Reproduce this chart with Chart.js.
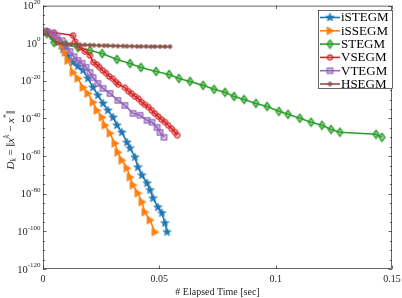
<!DOCTYPE html>
<html><head><meta charset="utf-8">
<script src="https://cdn.jsdelivr.net/npm/chart.js@4"></script>
<style>html,body{margin:0;padding:0;background:#fff}#wrap{width:402px;height:298px;position:relative}</style>
</head><body><div id="wrap"><canvas id="c" width="402" height="298"></canvas></div>
<script>
// ---- data (time in seconds, D_k given as base-10 exponents) ----
const seriesNames = ['iSTEGM','iSSEGM','STEGM','VSEGM','VTEGM','HSEGM'];
const seriesColors = ['#1f77b4','#ff7f0e','#2ca02c','#d62728','#9467bd','#8c564b'];

const iSTEGM_t   = [0.0017,0.0043,0.0064,0.0086,0.0107,0.0129,0.0150,0.0172,0.0193,0.0215,0.0236,0.0258,0.0279,0.0301,0.0318,0.0339,0.0361,0.0374,0.0395,0.0408,0.0425,0.0447,0.0460,0.0473,0.0494,0.0511,0.0524,0.0533];
const iSTEGM_exp = [6.2,3.6,0.4,-3.3,-7.0,-10.2,-12.3,-14.4,-18.7,-23.5,-27.7,-32.0,-35.7,-39.4,-43.6,-47.4,-52.7,-55.8,-60.6,-65.9,-70.2,-74.4,-78.1,-82.4,-87.2,-90.3,-95.6,-100.4];

const iSSEGM_t   = [0.0017,0.0043,0.0064,0.0082,0.0095,0.0107,0.0129,0.0150,0.0172,0.0193,0.0215,0.0232,0.0254,0.0266,0.0288,0.0309,0.0322,0.0339,0.0361,0.0374,0.0387,0.0408,0.0425,0.0438,0.0460,0.0481];
const iSSEGM_exp = [6.2,4.6,2.0,-1.2,-4.9,-9.2,-15.5,-18.7,-23.5,-26.7,-31.4,-35.7,-39.4,-43.6,-47.9,-53.2,-58.0,-62.2,-66.4,-71.2,-75.4,-79.7,-84.4,-89.8,-94.0,-100.4];

const STEGM_t    = [0.0017,0.0047,0.0099,0.0150,0.0202,0.0254,0.0318,0.0374,0.0421,0.0486,0.0542,0.0584,0.0632,0.0688,0.0735,0.0782,0.0821,0.0864,0.0915,0.0963,0.1014,0.1053,0.1104,0.1152,0.1199,0.1238,0.1276,0.1431,0.1457];
const STEGM_exp  = [5.1,0.4,-0.7,-2.3,-3.9,-5.5,-8.6,-10.8,-12.9,-15.0,-16.6,-18.7,-20.3,-22.4,-24.5,-26.1,-28.3,-29.9,-32.0,-33.6,-36.2,-37.8,-39.9,-42.0,-43.6,-45.8,-47.3,-48.4,-50.0];

const VSEGM_t    = [0.0017,0.0047,0.0129,0.0138,0.0159,0.0180,0.0202,0.0216,0.0231,0.0242,0.0257,0.0271,0.0285,0.0300,0.0314,0.0324,0.0352,0.0367,0.0381,0.0395,0.0410,0.0424,0.0438,0.0453,0.0467,0.0481,0.0495,0.0510,0.0524,0.0538,0.0553,0.0567,0.0577];
const VSEGM_exp  = [6.2,5.7,4.1,0.9,-2.3,-4.4,-6.5,-10.1,-11.3,-12.7,-14.5,-15.9,-17.7,-18.9,-20.7,-21.9,-23.6,-25.5,-26.8,-28.3,-29.5,-31.3,-32.7,-33.9,-35.7,-37.4,-38.9,-40.6,-41.9,-43.6,-45.4,-47.2,-48.9];

const VTEGM_t    = [0.0017,0.0039,0.0060,0.0082,0.0099,0.0116,0.0133,0.0150,0.0168,0.0185,0.0202,0.0215,0.0236,0.0258,0.0288,0.0322,0.0352,0.0387,0.0417,0.0447,0.0468,0.0490,0.0503,0.0520];
const VTEGM_exp  = [6.2,5.1,3.6,1.4,-1.7,-4.4,-7.1,-9.2,-10.7,-12.8,-15.5,-18.2,-21.4,-24.0,-26.7,-30.4,-33.0,-37.3,-38.3,-41.0,-42.0,-44.7,-47.4,-50.0];

const HSEGM_t    = [0.0017,0.0060,0.0082,0.0099,0.0120,0.0142,0.0159,0.0180,0.0202,0.0219,0.0241,0.0262,0.0279,0.0301,0.0322,0.0344,0.0361,0.0382,0.0404,0.0421,0.0443,0.0464,0.0481,0.0503,0.0524,0.0546];
const HSEGM_exp  = [5.1,0.1,-0.2,-0.4,-0.5,-0.7,-0.8,-0.9,-1.0,-1.1,-1.2,-1.3,-1.3,-1.4,-1.5,-1.5,-1.6,-1.6,-1.7,-1.7,-1.7,-1.8,-1.8,-1.8,-1.8,-1.8];

const xTickValues = [0, 0.05, 0.1, 0.15];
const xTickLabels = ['0', '0.05', '0.1', '0.15'];
const yTickExps   = [20, 0, -20, -40, -60, -80, -100, -120];

const allT   = [iSTEGM_t, iSSEGM_t, STEGM_t, VSEGM_t, VTEGM_t, HSEGM_t];
const allExp = [iSTEGM_exp, iSSEGM_exp, STEGM_exp, VSEGM_exp, VTEGM_exp, HSEGM_exp];

// ---- markers ----
function mk(size, draw){const c=document.createElement('canvas');c.width=c.height=size;const g=c.getContext('2d');g.translate(size/2,size/2);draw(g);return c;}
const markers = [
  mk(11, g=>{g.beginPath();for(let i=0;i<10;i++){const r=i%2?1.8:4.4;const a=-Math.PI/2+i*Math.PI/5;g.lineTo(r*Math.cos(a),r*Math.sin(a));}g.closePath();g.fillStyle='#1f77b4';g.fill();g.strokeStyle='#1f77b4';g.lineWidth=0.7;g.stroke();}),
  mk(11, g=>{g.beginPath();g.moveTo(-3.0,-4.0);g.lineTo(4.0,0);g.lineTo(-3.0,4.0);g.closePath();g.fillStyle='#ff7f0e';g.fill();g.strokeStyle='#ff7f0e';g.lineWidth=0.7;g.stroke();}),
  mk(11, g=>{g.beginPath();g.moveTo(0,-4.0);g.lineTo(2.9,0);g.lineTo(0,4.0);g.lineTo(-2.9,0);g.closePath();g.fillStyle='rgba(44,160,44,0.35)';g.fill();g.strokeStyle='#2ca02c';g.lineWidth=1.4;g.stroke();}),
  mk(9, g=>{g.beginPath();g.arc(0,0,2.6,0,Math.PI*2);g.fillStyle='rgba(214,39,40,0.25)';g.fill();g.strokeStyle='#d62728';g.lineWidth=1.3;g.stroke();}),
  mk(9, g=>{g.beginPath();g.rect(-2.7,-2.7,5.4,5.4);g.fillStyle='rgba(148,103,189,0.35)';g.fill();g.strokeStyle='#9467bd';g.lineWidth=1.3;g.stroke();}),
  mk(7, g=>{g.beginPath();g.arc(0,0,2.2,0,Math.PI*2);g.fillStyle='#8c564b';g.fill();})
];

const datasets = seriesNames.map((name,i)=>({
  label: name,
  data: allT[i].map((t,j)=>({x:t, y:Math.pow(10, allExp[i][j])})),
  borderColor: seriesColors[i],
  backgroundColor: seriesColors[i],
  borderWidth: 1.6,
  pointStyle: markers[i],
  pointRadius: 4,
  pointHoverRadius: 4,
  tension: 0,
  order: seriesNames.length - 1 - i
}));

const AXC = '#262626';
const FONT = '"Liberation Serif", "Times New Roman", serif';

const decor = {
  id: 'decor',
  afterDraw(chart){
    const {ctx, chartArea:a, scales} = chart;
    const xs = scales.x, ys = scales.y;
    ctx.save();
    // frame
    ctx.strokeStyle = AXC; ctx.lineWidth = 0.7;
    ctx.strokeRect(a.left+0.5, a.top+0.5, a.right-a.left-1, a.bottom-a.top-1);
    // y ticks (every 5 decades, major every 20)
    ys.ticks.forEach(tk=>{
      const e = Math.round(Math.log10(tk.value));
      const y = Math.round(ys.getPixelForValue(tk.value))+0.5;
      const major = e % 20 === 0;
      const L = major ? 3.5 : 2;
      ctx.beginPath();
      ctx.moveTo(a.left, y); ctx.lineTo(a.left+L, y);
      ctx.moveTo(a.right, y); ctx.lineTo(a.right-L, y);
      ctx.stroke();
    });
    // x ticks
    xTickValues.forEach(v=>{
      const x = Math.round(xs.getPixelForValue(v))+0.5;
      ctx.beginPath();
      ctx.moveTo(x, a.bottom); ctx.lineTo(x, a.bottom-3.5);
      ctx.moveTo(x, a.top); ctx.lineTo(x, a.top+3.5);
      ctx.stroke();
    });
    // x tick labels
    ctx.fillStyle = AXC;
    ctx.font = '10px ' + FONT;
    ctx.textAlign = 'center'; ctx.textBaseline = 'middle';
    xTickValues.forEach((v,i)=>{
      ctx.fillText(xTickLabels[i], xs.getPixelForValue(v), a.bottom + 10);
    });
    // x title
    ctx.fillText('# Elapsed Time [sec]', (a.left+a.right)/2, 292);
    // y tick labels 10^e
    yTickExps.forEach(e=>{
      const y = ys.getPixelForValue(Math.pow(10,e));
      const base = '10', sup = String(e);
      ctx.font = '7px ' + FONT;
      const ws = ctx.measureText(sup).width;
      ctx.font = '10.5px ' + FONT;
      const wb = ctx.measureText(base).width;
      const right = 40.5;
      ctx.textAlign = 'left'; ctx.textBaseline = 'alphabetic';
      ctx.fillText(base, right - ws - wb, y + 3.5);
      ctx.font = '7px ' + FONT;
      ctx.fillText(sup, right - ws, y - 1.8);
    });
    // y title with sub/superscripts
    const pieces = [
      ['D','italic 11px',0],['k','italic 7.5px',2.5],[' = ','11px',0],['\u2016','13px',1],
      ['x','italic 11px',0],['k','italic 7.5px',-4.5],[' \u2212 ','11px',0],['x','italic 11px',0],
      ['*','8px',-4.5],['\u2016','13px',1]
    ];
    let total = 0;
    pieces.forEach(p=>{ctx.font=p[1]+' '+FONT;p.w=ctx.measureText(p[0]).width;total+=p.w;});
    ctx.translate(13.5, 140);
    ctx.rotate(-Math.PI/2);
    let cx = -total/2;
    ctx.textAlign='left'; ctx.textBaseline='alphabetic';
    pieces.forEach(p=>{ctx.font=p[1]+' '+FONT;ctx.fillText(p[0],cx,p[2]);cx+=p.w;});
    ctx.setTransform(1,0,0,1,0,0);
    // legend
    const lx = 318.5, ly = 10.5, lw = 74, lh = 78;
    ctx.fillStyle = '#fff'; ctx.fillRect(lx, ly, lw, lh);
    ctx.strokeStyle = AXC; ctx.lineWidth = 0.7; ctx.strokeRect(lx, ly, lw, lh);
    ctx.font = '13px ' + FONT; ctx.textBaseline = 'middle'; ctx.textAlign='left';
    seriesNames.forEach((n,i)=>{
      const y = 17.5 + i*13.3;
      ctx.strokeStyle = seriesColors[i]; ctx.lineWidth = 1.6;
      ctx.beginPath(); ctx.moveTo(320, y); ctx.lineTo(340, y); ctx.stroke();
      const m = markers[i];
      ctx.drawImage(m, 330 - m.width/2, y - m.height/2);
      ctx.fillStyle = '#000';
      ctx.fillText(n, 341, y + 0.5);
    });
    ctx.restore();
  }
};

new Chart(document.getElementById('c'), {
  type: 'line',
  data: { datasets },
  options: {
    responsive: false,
    animation: false,
    devicePixelRatio: 1,
    layout: { padding: { top: 5, right: 10, left: 0, bottom: 0 } },
    plugins: { legend: { display: false }, tooltip: { enabled: false } },
    scales: {
      x: {
        type: 'linear', min: 0, max: 0.15,
        grid: { display: false }, border: { display: false },
        ticks: { display: false },
        afterFit(s){ s.height = 29; }
      },
      y: {
        type: 'logarithmic', min: 1e-120, max: 1e20,
        grid: { display: false }, border: { display: false },
        ticks: { display: false },
        afterBuildTicks(s){ const t=[]; for(let e=-120;e<=20;e+=5) t.push({value: Math.pow(10,e)}); s.ticks = t; },
        afterFit(s){ s.width = 43; }
      }
    }
  },
  plugins: [decor]
});
</script>
</body></html>
